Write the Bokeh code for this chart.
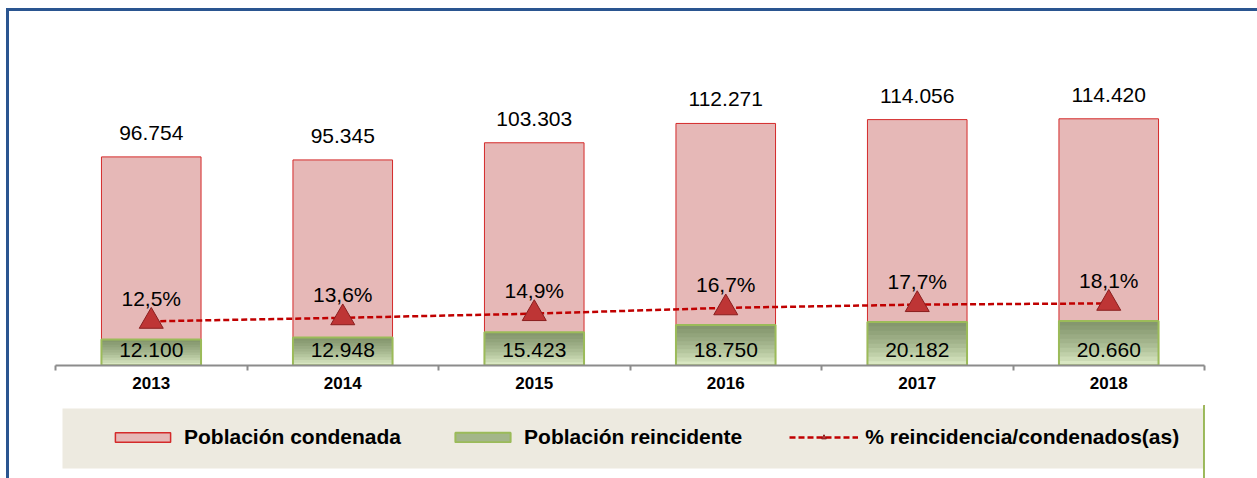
from bokeh.plotting import figure
from bokeh.layouts import column
from bokeh.models import (FactorRange, Range1d, LinearAxis, CategoricalAxis, FixedTicker,
                          Legend, LegendItem, ColumnDataSource, BoxAnnotation)
from bokeh.core.properties import value
from bokeh.embed import file_html
from bokeh.resources import INLINE

# ---- data ----
years = ["2013", "2014", "2015", "2016", "2017", "2018"]
condenada = [96754, 95345, 103303, 112271, 114056, 114420]
reincidente = [12100, 12948, 15423, 18750, 20182, 20660]
pct_reinc = [12.5, 13.6, 14.9, 16.7, 17.7, 18.1]
series_names = ["Población condenada", "Población reincidente", "% reincidencia/condenados(as)"]


def fmt_int(v):
    return f"{v:,}".replace(",", ".")


def fmt_pct(v):
    return f"{v:.1f}".replace(".", ",") + "%"


src = ColumnDataSource(dict(
    year=years, cond=condenada, rein=reincidente, pct=pct_reinc,
    cond_lbl=[fmt_int(v) for v in condenada],
    rein_lbl=[fmt_int(v) for v in reincidente],
    pct_lbl=[fmt_pct(v) for v in pct_reinc],
))

FONT = "Liberation Sans"
RED_FILL, RED_LINE = "#E6B8B7", "#D42A2A"
GRN_LIGHT, GRN_DARK, GRN_LINE = "#D9E7C2", "#4A5C33", "#9BBB59"
LINE_RED, TRI_FILL, TRI_LINE = "#C00000", "#BE3535", "#8A1E1E"

W = 1248
H1 = 394
BL, BR, BT, BB = 46, 53, 29, 40
FH = H1 - BT - BB

p = figure(width=W, height=H1, x_range=FactorRange(factors=years, range_padding=0),
           y_range=Range1d(0, FH / 0.002156), x_axis_location=None, y_axis_location=None,
           output_backend="svg", toolbar_location=None,
           min_border_left=BL, min_border_right=BR, min_border_top=BT, min_border_bottom=BB)
p.extra_y_ranges = {"pct": Range1d(-1.24, -1.24 + FH / 3.214)}
p.grid.visible = False
p.outline_line_color = None
p.background_fill_color = "white"
p.border_fill_color = "white"

# axes: ticks on the category boundaries + category labels
tick_pos = list(range(len(years) + 1))
tax = LinearAxis(ticker=FixedTicker(ticks=tick_pos),
                 axis_line_color="#8C8C8C", axis_line_width=2,
                 major_tick_line_color="#8C8C8C", major_tick_line_width=2,
                 major_tick_in=0, major_tick_out=5, minor_tick_line_color=None,
                 major_label_overrides={t: "" for t in tick_pos},
                 major_label_text_font_size="1px", major_label_standoff=0)
p.add_layout(tax, "below")
cax = CategoricalAxis(axis_line_color=None, major_tick_line_color=None, major_tick_out=0,
                      major_tick_in=0, major_label_standoff=6,
                      major_label_text_font=FONT, major_label_text_font_style="bold",
                      major_label_text_font_size="17px", major_label_text_color="black")
p.add_layout(cax, "below")

# bars
BW = 0.52
p.vbar(x="year", top="cond", width=BW, source=src, fill_color=RED_FILL,
       line_color=RED_LINE, line_width=1)
p.vbar(x="year", top="rein", width=BW, source=src, fill_color=GRN_LIGHT, line_color=None)
# vertical shading of the green bars (darker at the top)
N = 10
for k in range(1, N):
    p.vbar(x=years, bottom=[v * k / N for v in reincidente], top=reincidente, width=BW,
           fill_color=GRN_DARK, fill_alpha=0.085, line_color=None)
p.vbar(x="year", top="rein", width=BW, source=src, fill_color=None,
       line_color=GRN_LINE, line_width=2)

# line on secondary axis
p.line(x="year", y="pct", y_range_name="pct", source=src, line_color=LINE_RED,
       line_width=2.5, line_dash="6 3")
p.scatter(x="year", y="pct", y_range_name="pct", source=src, marker="triangle",
          size=24, fill_color=TRI_FILL, line_color=TRI_LINE, line_width=1)

# labels
p.text(x="year", y="cond", text="cond_lbl", source=src, text_align="center",
       text_baseline="middle", y_offset=-24, text_font=value(FONT), text_font_size="21px",
       text_color="black")
p.text(x="year", y="pct", y_range_name="pct", text="pct_lbl", source=src, text_align="center",
       text_baseline="middle", y_offset=-23, text_font=value(FONT), text_font_size="21px",
       text_color="black")
p.text(x="year", y=0, text="rein_lbl", source=src, text_align="center",
       text_baseline="middle", y_offset=-16, text_font=value(FONT), text_font_size="21px",
       text_color="black")

# ---- legend strip (separate figure below the chart) ----
H2 = 467 - H1
q = figure(width=W, height=H2, x_range=Range1d(0, W), y_range=Range1d(0, H2),
           x_axis_location=None, y_axis_location=None, output_backend="svg",
           toolbar_location=None, min_border_left=BL, min_border_right=BR,
           min_border_top=0, min_border_bottom=0)
q.grid.visible = False
q.outline_line_color = None
q.border_fill_color = "white"
q.add_layout(BoxAnnotation(left=7, right=1167, top=70, bottom=10,
                           left_units="screen", right_units="screen",
                           top_units="screen", bottom_units="screen",
                           fill_color="#EDEAE0", fill_alpha=1, line_color=None,
                           level="underlay"))
# key renderers: carry the series data but lie outside this strip's ranges
k1 = q.vbar(x="cond", top="rein", width=1, source=src, fill_color=RED_FILL,
            line_color=RED_LINE, line_width=1.5)
k2 = q.vbar(x="cond", top="rein", width=1, source=src, fill_color="#A3B689",
            line_color=GRN_LINE, line_width=2)
k3 = q.line(x="cond", y="rein", source=src, line_color=LINE_RED, line_width=2.5,
            line_dash="6 3")
k4 = q.scatter(x="cond", y="rein", source=src, marker="triangle", size=10,
               fill_color=TRI_FILL, line_color=TRI_LINE)

legend = Legend(items=[
    LegendItem(label=series_names[0], renderers=[k1]),
    LegendItem(label=series_names[1], renderers=[k2]),
    LegendItem(label=series_names[2], renderers=[k3, k4]),
], orientation="horizontal", location=(53, 29), glyph_width=69, glyph_height=12,
    label_standoff=7, spacing=47, padding=0, margin=0, background_fill_alpha=0,
    border_line_color=None, label_text_font=FONT, label_text_font_style="bold",
    label_text_font_size="21px", label_text_color="black")
q.add_layout(legend, "center")

layout = column(p, q, spacing=0,
                styles={"margin-left": "6px", "margin-top": "8px",
                        "border-left": "3px solid #2A5590", "border-top": "3px solid #2A5590"})

open("out.html", "w").write(file_html(layout, INLINE))
